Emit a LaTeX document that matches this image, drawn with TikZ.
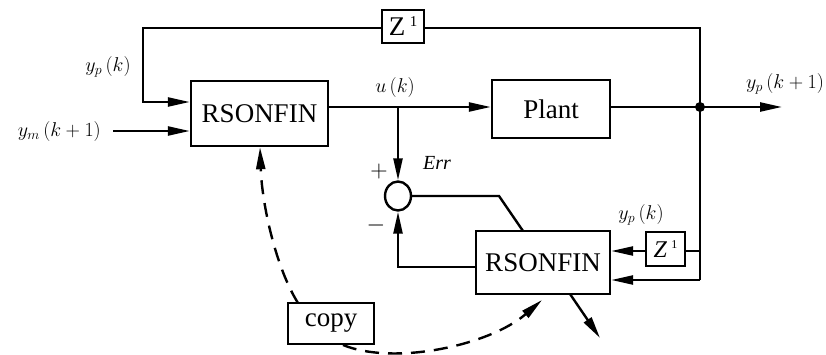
\documentclass[tikz,border=0pt]{standalone}
\usepackage{fix-cm}
\usepackage{fontspec}
\setmainfont{Liberation Serif}
\usetikzlibrary{arrows.meta,shapes.geometric}
\tikzset{
  blk/.style={draw,line width=2.4pt,inner sep=0pt,font=\fontsize{27}{30}\selectfont},
  lbl/.style={inner sep=0pt,font=\fontsize{20}{24}\selectfont},
  wire/.style={line width=2.4pt},
  arr/.style={line width=2.4pt,-{Triangle[length=22pt,width=9pt]}},
  dsh/.style={line width=2.4pt,dash pattern=on 14pt off 9pt,-{Triangle[length=22pt,width=9pt]}},
}
\begin{document}
\begin{tikzpicture}[x=1pt,y=-1pt]
\useasboundingbox (0,0) rectangle (826,355);
% boxes
\node[blk,minimum width=137pt,minimum height=65pt] (r1) at (259.5,113.5) {RSONFIN};
\node[blk,minimum width=118pt,minimum height=58pt] (plant) at (551,109) {Plant};
\node[blk,minimum width=134pt,minimum height=63pt] (r2) at (543,262.5) {RSONFIN};
\node[blk,minimum width=42pt,minimum height=33pt] (z1) at (403,26.5) {Z\,\raisebox{9pt}{\fontsize{15}{15}\selectfont 1}};
\node[blk,minimum width=39pt,minimum height=34pt] (z2) at (665.5,249) {\fontsize{24}{26}\selectfont\textit{Z}\,\raisebox{9pt}{\fontsize{12}{12}\selectfont 1}};
\node[blk,minimum width=86pt,minimum height=41pt] (copy) at (331,323.5) {copy};
\node[draw,ellipse,line width=2.4pt,minimum width=26pt,minimum height=29pt,inner sep=0pt] (sum) at (398,196) {};
\fill (700,107) circle (5pt);
\coordinate (j) at (700,107);
% coordinates
\coordinate (tl) at (143,28);
\coordinate (tr) at (700,28);
\coordinate (bu) at (398,107);
\coordinate (out) at (782,107);
\coordinate (ymstart) at (113,131);
\coordinate (b1) at (700,251);
\coordinate (b2) at (700,280);
\coordinate (eb) at (499,196);
\coordinate (fb) at (398,267);
\coordinate (o2) at (600,338);
% wires
\draw[wire] (j) -- (tr) -- (z1.east |- tr);
\draw[arr] (z1.west |- tl) -- (tl) -- (143,102) -- (r1.west |- 0,102);
\draw[arr] (ymstart) -- (r1.west |- ymstart);
\draw[arr] (r1.east |- bu) -- (plant.west |- bu);
\draw[arr] (bu) -- (sum.north);
\draw[wire] (plant.east |- j) -- (j);
\draw[arr] (j) -- (out);
\draw[wire] (j) -- (b2);
\draw[arr] (b2) -- (r2.east |- b2);
\draw[wire] (b1) -- (z2.east |- b1);
\draw[arr] (z2.west |- b1) -- (r2.east |- b1);
\draw[wire] (sum.east) -- (eb) -- (523,231);
\draw[arr] (r2.west |- fb) -- (fb) -- (sum.south);
\draw[arr] (570,294) -- (o2);
% dashed copy links
\draw[dsh] (298,303) .. controls (276,268) and (262,205) .. (r1.south -| 260,0);
\draw[dsh] (343,345) .. controls (395,366) and (490,345) .. (542,300);
% labels
\node[lbl] (lyp) at (108,67) {$y_p\,(k)$};
\node[lbl,anchor=east] (lym) at (101,132) {$y_m\,(k+1)$};
\node[lbl] (lu) at (395,88) {$u\,(k)$};
\node[lbl] (lyo) at (785,84) {$y_p\,(k+1)$};
\node[lbl] (lyp2) at (641,215) {$y_p\,(k)$};
\node[lbl] (lerr) at (437,163) {\textit{Err}};
\node[lbl,font=\fontsize{24}{24}\selectfont] (lplus) at (379,172) {$+$};
\node[lbl,font=\fontsize{24}{24}\selectfont] (lminus) at (376,226) {$-$};
\end{tikzpicture}
\end{document}
